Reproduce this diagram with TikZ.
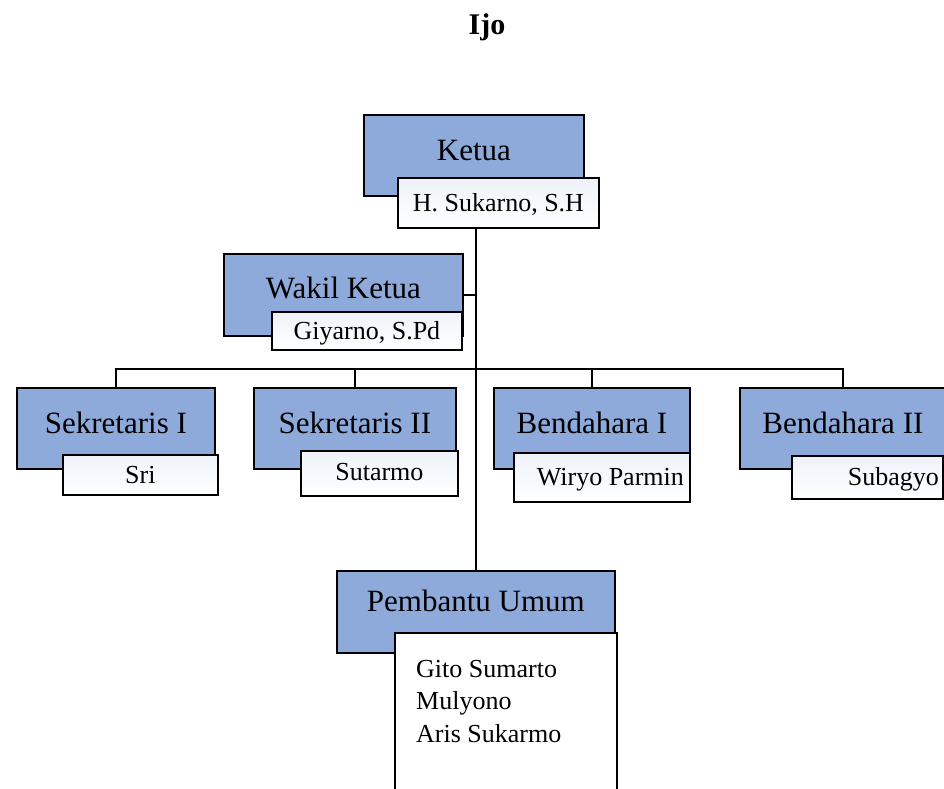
\documentclass[tikz,border=0pt]{standalone}
\usepackage{fontspec}
\setmainfont{Liberation Serif}
\definecolor{rolefill}{HTML}{8EAADB}
\definecolor{nametint}{HTML}{EEF2F9}
\begin{document}
\begin{tikzpicture}[x=1pt,y=-1pt,
    role/.style={draw,line width=1.8pt,fill=rolefill,anchor=north west,inner sep=0pt,
      text height=46pt,text depth=35pt,font=\fontsize{31}{37}\selectfont},
    nm/.style={draw,line width=1.8pt,top color=nametint,bottom color=white,anchor=north west,
      inner sep=0pt,font=\fontsize{26}{32.5}\selectfont},
    link/.style={line width=1.8pt}]
  \useasboundingbox (0,0) rectangle (944,788);
  \clip (0,0) rectangle (944,788);
  \node[font=\bfseries\fontsize{30}{36}\selectfont] (judul) at (487,27) {Ijo};

  \node[role,minimum width=220pt] (ketua) at (363,114) {Ketua};
  \node[nm,minimum width=201pt,text height=34pt,text depth=16pt] (knama) at (397,177) {H. Sukarno, S.H};

  \node[role,minimum width=239pt,text height=45pt,text depth=37pt] (wakil) at (223,253) {Wakil Ketua};
  \node[nm,minimum width=190pt,text height=28pt,text depth=10pt] (wnama) at (271,311) {Giyarno, S.Pd};

  \node[role,minimum width=198pt] (sek1) at (16,387) {Sekretaris I};
  \node[nm,minimum width=155pt,text height=29pt,text depth=11pt] (s1nama) at (62,454) {Sri};
  \node[role,minimum width=202pt] (sek2) at (253,387) {Sekretaris II};
  \node[nm,minimum width=157pt,text height=30pt,text depth=15pt] (s2nama) at (300,450) {Sutarmo};
  \node[role,minimum width=196pt] (bend1) at (493,387) {Bendahara I};
  \node[nm,inner xsep=6pt,text width=164pt,align=flush right,text height=33pt,text depth=16pt] (b1nama) at (513,452) {Wiryo Parmin};
  \node[role,minimum width=206pt] (bend2) at (739,387) {Bendahara II};
  \node[nm,inner xsep=4pt,text width=143pt,align=flush right,text height=30pt,text depth=13pt] (b2nama) at (791,455) {Subagyo};

  \node[role,minimum width=278pt,text height=41pt,text depth=41pt] (pu) at (336,570) {Pembantu Umum};
  \node[nm,top color=white,minimum width=222pt,minimum height=170pt] (punama) at (394,632) {};
  \node[anchor=north west,inner sep=0pt,align=left,font=\fontsize{26}{32.5}\selectfont] (pulist) at (416,660)
    {Gito Sumarto\\Mulyono\\Aris Sukarmo};

  \coordinate (bus) at (474,369);
  \draw[link] (pu.north) -- (pu.north |- knama.south);
  \draw[link] (wakil.east) -- (wakil.east -| pu.north);
  \draw[link] (sek1.north) |- (bus -| bend2.north) -- (bend2.north);
  \draw[link] (sek2.north) -- (sek2.north |- bus);
  \draw[link] (bend1.north) -- (bend1.north |- bus);
\end{tikzpicture}
\end{document}
